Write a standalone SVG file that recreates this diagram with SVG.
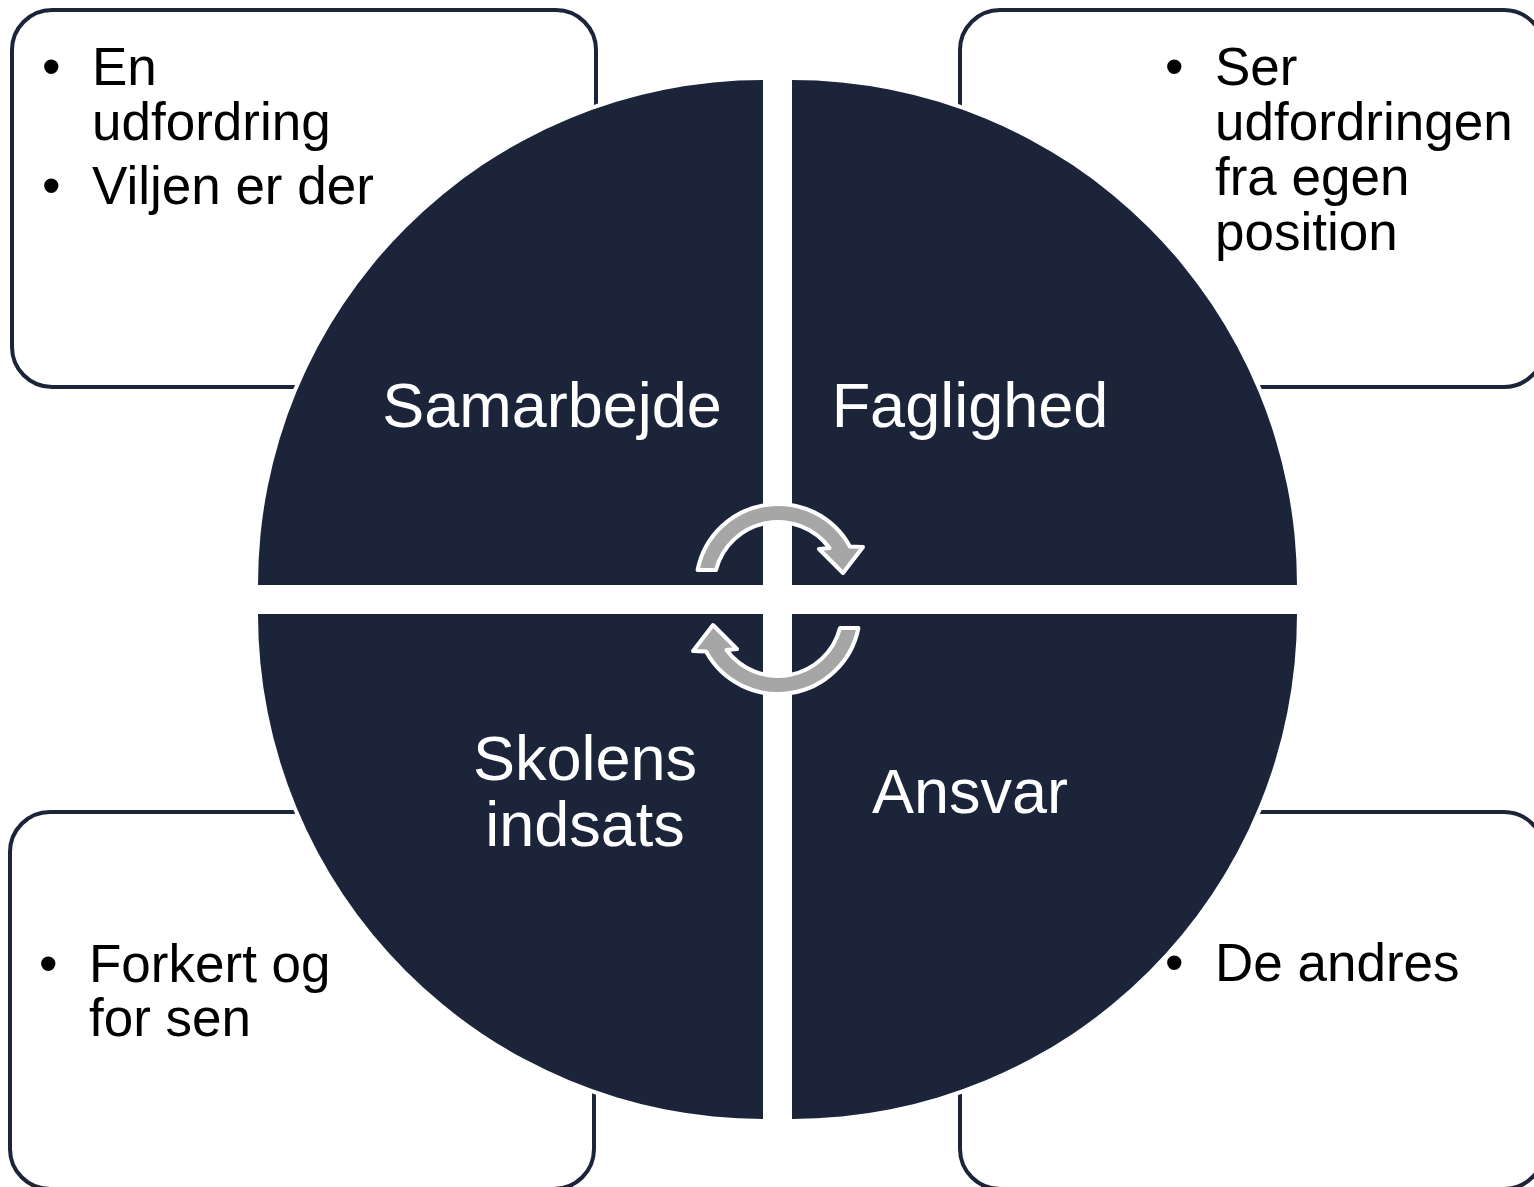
<svg xmlns="http://www.w3.org/2000/svg" xmlns:xlink="http://www.w3.org/1999/xlink" width="1534" height="1187" viewBox="0 0 1534 1187">
<style>
.box{fill:#ffffff;stroke:#1B2439;stroke-width:4}
.quad{fill:#1B2439;stroke:#ffffff;stroke-width:8;paint-order:stroke}
.bt{font-family:"Liberation Sans",Arial,sans-serif;font-size:53px;fill:#000000}
.lbl{font-family:"Liberation Sans",Arial,sans-serif;font-size:63px;fill:#ffffff;text-anchor:middle}
.arr{fill:#A6A6A6;stroke:#ffffff;stroke-width:4;stroke-linejoin:round}
</style>
<defs>
<path id="circArrow" class="arr" d="M 697.6 570 A 82 82 0 0 1 849.9 546.5 L 863 547 L 843 573 L 819 549 L 829.5 548 A 64 64 0 0 0 716 570 Z"/>
</defs>
<rect width="1534" height="1187" fill="#ffffff"/>
<g id="box-tl">
<rect class="box" x="12" y="10" width="584" height="377" rx="40"/>
<text class="bt"><tspan x="42" y="85">•</tspan><tspan x="92" y="85">En</tspan><tspan x="92" y="140">udfordring</tspan><tspan x="42" y="204">•</tspan><tspan x="92" y="204">Viljen er der</tspan></text>
</g>
<g id="box-tr">
<rect class="box" x="960" y="10" width="584" height="377" rx="40"/>
<text class="bt"><tspan x="1165" y="85">•</tspan><tspan x="1215" y="85">Ser</tspan><tspan x="1215" y="140">udfordringen</tspan><tspan x="1215" y="195">fra egen</tspan><tspan x="1215" y="250">position</tspan></text>
</g>
<g id="box-bl">
<rect class="box" x="10" y="812" width="584" height="377" rx="40"/>
<text class="bt"><tspan x="39" y="982">•</tspan><tspan x="89" y="982">Forkert og</tspan><tspan x="89" y="1036">for sen</tspan></text>
</g>
<g id="box-br">
<rect class="box" x="960" y="812" width="584" height="377" rx="40"/>
<text class="bt"><tspan x="1165" y="981">•</tspan><tspan x="1215" y="981">De andres</tspan></text>
</g>
<g id="q-samarbejde">
<path class="quad" d="M 763 585 L 258 585 A 505 505 0 0 1 763 80 Z"/>
<text class="lbl" x="552" y="427">Samarbejde</text>
</g>
<g id="q-faglighed">
<path class="quad" d="M 792 585 L 792 80 A 505 505 0 0 1 1297 585 Z"/>
<text class="lbl" x="970" y="427">Faglighed</text>
</g>
<g id="q-skolens">
<path class="quad" d="M 763 614 L 763 1119 A 505 505 0 0 1 258 614 Z"/>
<text class="lbl" x="585" y="780">Skolens</text>
<text class="lbl" x="585" y="846">indsats</text>
</g>
<g id="q-ansvar">
<path class="quad" d="M 792 614 L 1297 614 A 505 505 0 0 1 792 1119 Z"/>
<text class="lbl" x="970" y="813">Ansvar</text>
</g>
<g id="connectors">
<use xlink:href="#circArrow"/>
<use xlink:href="#circArrow" transform="rotate(180 778 599)"/>
</g>
</svg>
